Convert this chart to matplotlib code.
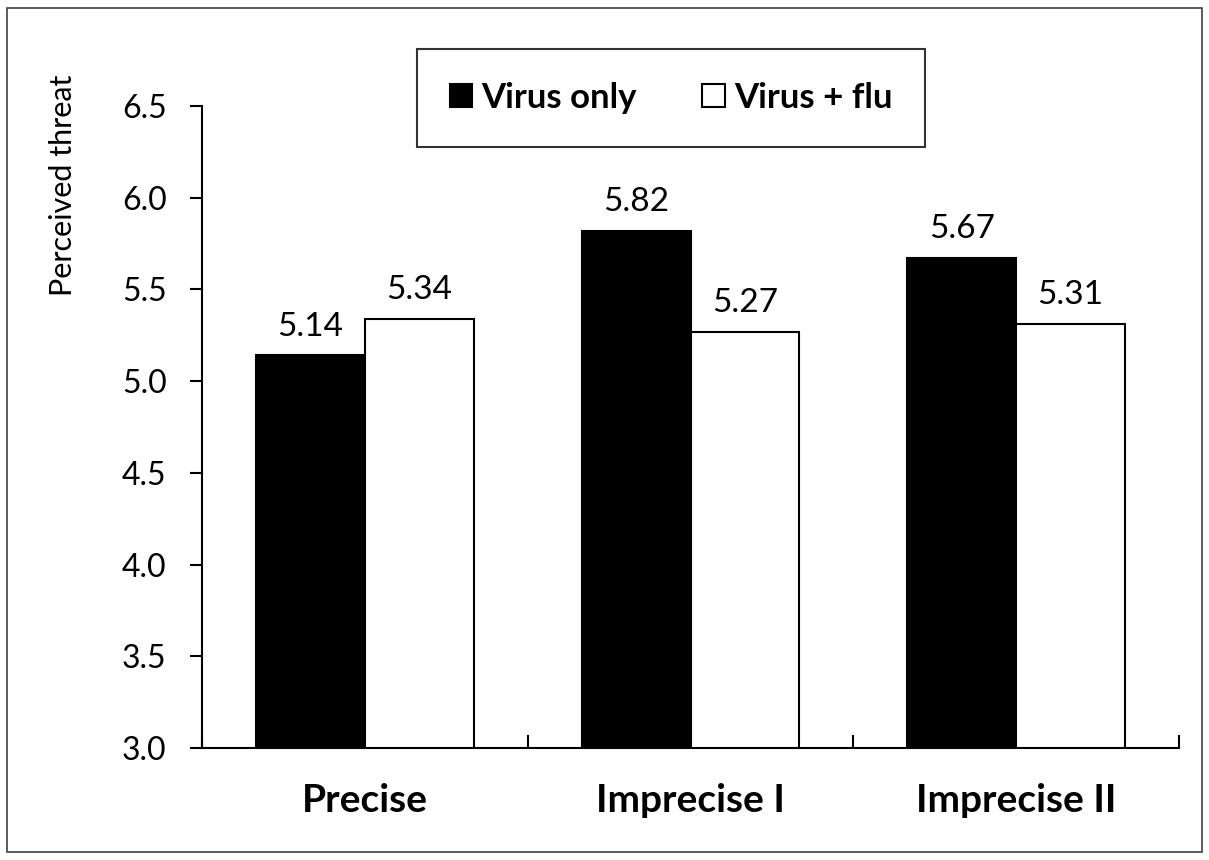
import matplotlib
matplotlib.use('Agg')
import matplotlib.pyplot as plt
from matplotlib.patches import Rectangle
import numpy as np

# data
categories = ['Precise', 'Imprecise I', 'Imprecise II']
virus_only = [5.14, 5.82, 5.67]
virus_flu = [5.34, 5.27, 5.31]
series_names = ['Virus only', 'Virus + flu']
y_ticks = [3.0, 3.5, 4.0, 4.5, 5.0, 5.5, 6.0, 6.5]

plt.rcParams['font.family'] = ['Lato', 'DejaVu Sans']

fig = plt.figure(figsize=(12.09, 8.6), dpi=100)
ax = fig.add_axes([0.1671, 0.1302, 0.8081, 0.7465])

x = np.arange(len(categories))
w = 0.334
b1 = ax.bar(x - w/2, virus_only, w, bottom=0, color='black', edgecolor='black', linewidth=1.5, label=series_names[0])
b2 = ax.bar(x + w/2, virus_flu, w, bottom=0, color='white', edgecolor='black', linewidth=1.5, label=series_names[1])

# value labels above bars
for bars, vals in [(b1, virus_only), (b2, virus_flu)]:
    for rect, v in zip(bars, vals):
        ax.annotate('%.2f' % v, (rect.get_x() + rect.get_width()/2, v),
                    xytext=(0, 10), textcoords='offset points',
                    ha='center', va='bottom', fontsize=24)

ax.set_xlim(-0.5, 2.5)
ax.set_ylim(3.0, 6.5)
ax.set_yticks(y_ticks)
ax.set_yticklabels(['%.1f' % t for t in y_ticks], fontsize=23)
ax.set_xticks(x)
ax.set_xticklabels(categories, fontsize=28, fontweight='bold')
ax.set_xticks([-0.5, 0.5, 1.5, 2.5], minor=True)
ax.tick_params(axis='x', which='major', length=0, pad=25)
ax.tick_params(axis='x', which='minor', direction='in', length=9.5, width=1.5)
ax.tick_params(axis='y', direction='out', length=8.5, width=1.5, pad=17)
for s in ['top', 'right']:
    ax.spines[s].set_visible(False)
for s in ['left', 'bottom']:
    ax.spines[s].set_linewidth(1.5)
ax.set_ylabel('Perceived threat', fontsize=22)
ax.yaxis.set_label_coords(-0.128, 0.877)

leg = fig.legend(handles=[b1, b2], loc='center', bbox_to_anchor=(0.555, 0.886),
                 ncol=2, prop={'weight': 'bold', 'size': 25},
                 frameon=True, fancybox=False, edgecolor='black',
                 handlelength=0.65, handleheight=0.65, handletextpad=0.25,
                 columnspacing=1.9, borderpad=0.95, borderaxespad=0)
leg.get_frame().set_linewidth(1.5)

# outer border around the whole figure
fig.patches.append(Rectangle((0.0058, 0.0093), 0.9884, 0.9814, transform=fig.transFigure,
                             fill=False, edgecolor='#404040', linewidth=1.2))

fig.savefig('out.png', dpi=100)
